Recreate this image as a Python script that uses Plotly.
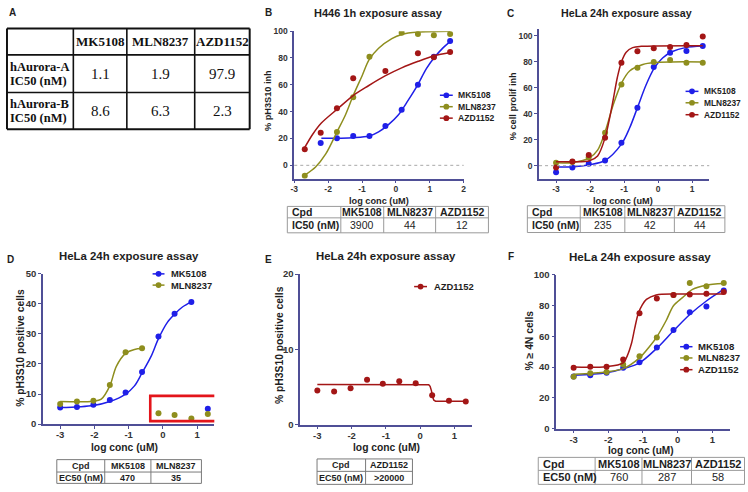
import plotly.graph_objects as go

W, H = 748, 492

# ---------------- data ----------------
# Panel A table
a_cols = ["MK5108", "MLN8237", "AZD1152"]
a_rows = [["hAurora-A", "IC50 (nM)"], ["hAurora-B", "IC50 (nM)"]]
a_vals = [["1.1", "1.9", "97.9"], ["8.6", "6.3", "2.3"]]

# Panel B: H446 1h exposure (% pH3S10 inh)
b_x = [-2.69, -2.22, -1.74, -1.26, -0.78, -0.31, 0.17, 0.65, 1.12, 1.60]
b_mk = [None, 16.7, 20.1, 21.8, 21.8, 29.3, 41.4, 60.0, 81.0, 92.7]
b_mln = [-7.7, None, 24.9, 50.8, 80.9, None, 98.8, 97.8, 96.9, 97.8]
b_azd = [11.9, 24.2, 42.6, 64.9, None, 70.2, None, 83.5, 80.6, 84.5]
b_mk_fit_x = [-2.2, -1.26, -0.79, -0.51, -0.22, 0.07, 0.36, 0.64, 0.9, 1.14, 1.39, 1.59]
b_mk_fit_y = [20.1, 20.6, 21.8, 24.9, 30.3, 37.5, 48.4, 59.8, 72.0, 80.5, 87.5, 92.0]
b_mln_fit_x = [-2.69, -2.37, -2.07, -1.73, -1.49, -1.26, -1.0, -0.79, -0.51, -0.12, 0.17, 0.64, 1.6]
b_mln_fit_y = [-7.3, -1.2, 8.5, 25.4, 37.5, 52.0, 66.6, 78.7, 87.2, 94.4, 97.5, 99.3, 100.0]
b_azd_fit_x = [-2.69, -2.46, -2.2, -1.73, -1.26, -0.81, -0.32, 0.17, 0.66, 1.14, 1.6]
b_azd_fit_y = [13.3, 23.0, 31.5, 41.9, 52.0, 59.3, 66.6, 72.6, 77.5, 81.6, 84.0]
b_table = [["Cpd", "MK5108", "MLN8237", "AZD1152"], ["IC50 (nM)", "3900", "44", "12"]]

# Panel C: HeLa 24h (% cell prolif inh)
c_x = [-3.0, -2.52, -2.04, -1.56, -1.08, -0.61, -0.13, 0.35, 0.83, 1.31]
c_mk = [-5.0, -1.5, 1.5, 4.0, 17.6, 44.7, 76.1, 87.0, 88.4, 92.2]
c_mln = [2.3, 2.8, 6.5, 25.4, 62.6, 75.4, 79.9, 81.4, 79.4, 79.4]
c_azd = [-1.5, 3.3, 8.3, 21.6, 79.4, 88.2, 90.5, 91.5, 93.0, 99.5]
c_mk_fit_x = [-3.0, -2.5, -2.02, -1.56, -1.08, -0.84, -0.61, -0.36, -0.12, 0.13, 0.42, 0.8, 1.31]
c_mk_fit_y = [-1.0, -0.8, 0.75, 4.0, 16.6, 29.0, 44.7, 62.0, 75.0, 83.0, 88.0, 91.0, 92.2]
c_mln_fit_x = [-3.0, -2.5, -2.02, -1.78, -1.56, -1.32, -1.08, -0.84, -0.45, -0.12, 0.4, 1.31]
c_mln_fit_y = [2.2, 2.5, 6.0, 12.0, 26.0, 47.0, 63.5, 73.0, 78.0, 79.5, 80.0, 80.0]
c_azd_fit_x = [-3.0, -2.5, -2.02, -1.78, -1.56, -1.44, -1.32, -1.2, -1.08, -0.94, -0.75, -0.5, 1.31]
c_azd_fit_y = [3.0, 3.0, 3.8, 7.5, 21.5, 35.0, 51.0, 68.0, 80.0, 87.5, 91.0, 92.0, 92.5]
c_table = [["Cpd", "MK5108", "MLN8237", "AZD1152"], ["IC50 (nM)", "235", "42", "44"]]

# Panel D: HeLa 24h (% pH3S10 positive cells)
d_x = [-3.0, -2.51, -2.03, -1.55, -1.09, -0.61, -0.13, 0.34, 0.83, 1.31]
d_mk = [5.5, 5.7, 6.4, 8.0, 10.5, 17.3, 29.1, 36.7, 40.6, 5.1]
d_mln = [6.7, 7.5, 7.8, 13.0, 23.9, 25.2, 3.6, 3.0, 1.9, 3.4]
d_mk_fit_x = [-3.0, -2.03, -1.55, -1.09, -0.83, -0.61, -0.35, -0.13, 0.13, 0.34, 0.57, 0.83]
d_mk_fit_y = [5.5, 6.2, 7.5, 10.0, 12.7, 17.0, 22.4, 28.4, 33.8, 36.5, 38.9, 40.6]
d_mln_fit_x = [-3.0, -2.03, -1.8, -1.55, -1.36, -1.09, -0.83, -0.61]
d_mln_fit_y = [7.5, 7.6, 8.3, 12.7, 19.2, 23.5, 24.8, 25.1]
d_table = [["Cpd", "MK5108", "MLN8237"], ["EC50 (nM)", "470", "35"]]

# Panel E: HeLa 24h (% pH3S10 positive cells), AZD1152
e_x = [-3.0, -2.51, -2.03, -1.55, -1.09, -0.61, -0.13, 0.35, 0.84, 1.33]
e_azd = [4.55, 4.4, 4.85, 5.97, 5.45, 5.76, 5.5, 3.9, 3.2, 3.07]
e_fit_x = [-3.0, 0.25, 0.29, 0.33, 0.36, 0.40, 0.45, 1.33]
e_fit_y = [5.33, 5.32, 5.1, 4.5, 3.7, 3.25, 3.13, 3.12]
e_table = [["Cpd", "AZD1152"], ["EC50 (nM)", ">20000"]]

# Panel F: HeLa 24h (% >= 4N cells)
f_x = [-3.0, -2.52, -2.05, -1.57, -1.1, -0.6, -0.12, 0.35, 0.83, 1.33]
f_mk = [33.9, 34.7, 36.4, 39.6, 43.2, 52.8, 64.2, 75.6, 79.4, 89.8]
f_mln = [33.7, 36.0, 36.9, 41.7, 47.0, 59.3, 86.9, 94.7, 92.6, 94.7]
f_azd = [39.6, 40.3, 40.3, 44.9, 75.0, 84.7, 86.9, 87.3, 87.7, 88.8]
f_mk_fit_x = [-3.0, -2.05, -1.57, -1.1, -0.6, -0.12, 0.35, 0.83, 1.33]
f_mk_fit_y = [34.7, 36.4, 39.0, 42.8, 52.3, 63.6, 74.2, 83.0, 90.5]
f_mln_fit_x = [-3.0, -2.05, -1.57, -1.1, -0.81, -0.6, -0.33, -0.12, 0.14, 0.43, 0.81, 1.33]
f_mln_fit_y = [35.4, 36.9, 39.0, 46.0, 53.4, 59.7, 70.3, 79.9, 85.2, 90.5, 93.2, 94.3]
f_azd_fit_x = [-3.0, -2.05, -1.57, -1.45, -1.33, -1.24, -1.14, -1.02, -0.9, -0.62, 0.0, 1.33]
f_azd_fit_y = [40.0, 40.3, 42.8, 47.5, 55.5, 65.0, 74.6, 80.5, 84.0, 86.9, 87.5, 87.5]
f_table = [["Cpd", "MK5108", "MLN8237", "AZD1152"], ["EC50 (nM)", "760", "287", "58"]]

# tick labels
x_ticks_b = [-3, -2, -1, 0, 1, 2]
x_ticks = [-3, -2, -1, 0, 1]
y_ticks_100 = [0, 20, 40, 60, 80, 100]
y_ticks_50 = [0, 10, 20, 30, 40, 50]
y_ticks_20 = [0, 10, 20]

# ---------------- style ----------------
COL_MK = "#1f1fe8"
COL_MLN = "#8e8e1e"
COL_AZD = "#a31616"
AXC = "#4f4f96"
TXT = "#1e1e1e"
TICK = "#333333"
SANS = "Liberation Sans"
SERIF = "Liberation Serif"

def X(p):
    return p / W

def Y(p):
    return 1 - p / H

shapes = []
annotations = []

def text(px, py, s, size, bold=False, anchor="center", family=SANS, color=TXT, angle=0):
    annotations.append(dict(
        x=X(px), y=Y(py), xref="paper", yref="paper", text=s, showarrow=False,
        xanchor=anchor, yanchor="middle", borderpad=0, textangle=angle,
        font=dict(family=family, size=size, color=color,
                  weight="bold" if bold else "normal")))

def seg(x0, y0, x1, y1, color, w):
    shapes.append(dict(type="line", xref="paper", yref="paper",
                       x0=X(x0), x1=X(x1), y0=Y(y0), y1=Y(y1),
                       line=dict(color=color, width=w)))

def grid(xe, ye, color, w_in, w_out):
    for i, y in enumerate(ye):
        seg(xe[0], y, xe[-1], y, color, w_out if i in (0, len(ye) - 1) else w_in)
    for j, x in enumerate(xe):
        seg(x, ye[0], x, ye[-1], color, w_out if j in (0, len(xe) - 1) else w_in)

def table(xe, ye, rows, color, size, bold_cells, first_left, w=1.0):
    grid(xe, ye, color, w, w)
    for r, row in enumerate(rows):
        cy = (ye[r] + ye[r + 1]) / 2
        for c, s in enumerate(row):
            b = bold_cells(r, c)
            if c == 0 and first_left:
                text(xe[0] + 3.5, cy, s, size, bold=b, anchor="left")
            else:
                text((xe[c] + xe[c + 1]) / 2, cy, s, size, bold=b)

def legend_item(x0, x1, xt, y, color, label, size):
    seg(x0, y, x1, y, color, 1.5)
    cx = (x0 + x1) / 2
    r = 2.9
    shapes.append(dict(type="circle", xref="paper", yref="paper",
                       x0=X(cx - r), x1=X(cx + r), y0=Y(y + r), y1=Y(y - r),
                       fillcolor=color, line=dict(width=0)))
    text(xt, y, label, size, bold=True, anchor="left")

fig = go.Figure()

def series(k, fx, fy, px_, py_, color, name, shape="spline"):
    xa = "x" if k == 1 else "x%d" % k
    ya = "y" if k == 1 else "y%d" % k
    fig.add_trace(go.Scatter(x=fx, y=fy, mode="lines", xaxis=xa, yaxis=ya,
                             line=dict(color=color, width=1.5, shape=shape, smoothing=0.9),
                             showlegend=False, hoverinfo="skip", name=name + " fit"))
    fig.add_trace(go.Scatter(x=px_, y=py_, mode="markers", xaxis=xa, yaxis=ya,
                             marker=dict(color=color, size=6, line=dict(width=0)),
                             showlegend=False, name=name))

series(1, b_mk_fit_x, b_mk_fit_y, b_x, b_mk, COL_MK, "MK5108")
series(1, b_mln_fit_x, b_mln_fit_y, b_x, b_mln, COL_MLN, "MLN8237")
series(1, b_azd_fit_x, b_azd_fit_y, b_x, b_azd, COL_AZD, "AZD1152")
series(2, c_mk_fit_x, c_mk_fit_y, c_x, c_mk, COL_MK, "MK5108")
series(2, c_mln_fit_x, c_mln_fit_y, c_x, c_mln, COL_MLN, "MLN8237")
series(2, c_azd_fit_x, c_azd_fit_y, c_x, c_azd, COL_AZD, "AZD1152")
series(3, d_mk_fit_x, d_mk_fit_y, d_x, d_mk, COL_MK, "MK5108")
series(3, d_mln_fit_x, d_mln_fit_y, d_x, d_mln, COL_MLN, "MLN8237")
series(4, e_fit_x, e_fit_y, e_x, e_azd, COL_AZD, "AZD1152", shape="linear")
series(5, f_mk_fit_x, f_mk_fit_y, f_x, f_mk, COL_MK, "MK5108")
series(5, f_mln_fit_x, f_mln_fit_y, f_x, f_mln, COL_MLN, "MLN8237")
series(5, f_azd_fit_x, f_azd_fit_y, f_x, f_azd, COL_AZD, "AZD1152")

def axis(domain, rng, ticks, fs_tick, anchor, standoff=0):
    return dict(domain=domain, range=rng, anchor=anchor,
                tickvals=ticks, ticktext=[str(t) for t in ticks],
                showline=True, linecolor=AXC, linewidth=1.5, mirror=False,
                ticks="outside", ticklen=3, tickwidth=1.2, tickcolor=AXC,
                ticklabelstandoff=standoff,
                showgrid=False, zeroline=False, fixedrange=True,
                tickfont=dict(family=SANS, size=fs_tick, color=TICK, weight="bold"))

def xd(p0, p1):
    return [X(p0), X(p1)]

def yd(top, bottom):
    return [Y(bottom), Y(top)]

layout_axes = dict(
    xaxis=axis(xd(293.0, 464.0), [-3, 2], x_ticks_b, 8.5, "y", -2),
    yaxis=axis(yd(25.7, 176.7), [-10, 100], y_ticks_100, 8.5, "x"),
    xaxis2=axis(xd(540.1, 711.9), [-3.5, 1.5], x_ticks, 8.5, "y2", -2),
    yaxis2=axis(yd(24.0, 176.6), [-10, 105], y_ticks_100, 8.5, "x2"),
    xaxis3=axis(xd(39.4, 212.3), [-3.5, 1.5], x_ticks, 9.5, "y3", -2),
    yaxis3=axis(yd(273.7, 427.7), [0, 50], y_ticks_50, 9.5, "x3"),
    xaxis4=axis(xd(299.0, 472.0), [-3.5, 1.5], x_ticks, 9.5, "y4", -2),
    yaxis4=axis(yd(274.3, 428.3), [0, 20], y_ticks_20, 9.5, "x4"),
    xaxis5=axis(xd(557.5, 732.5), [-3.5, 1.5], x_ticks, 9.5, "y5", -2),
    yaxis5=axis(yd(275.0, 432.3), [0, 100], y_ticks_100, 9.5, "x5"),
)

# axis titles
XT = "log conc (uM)"
text(378.5, 199.5, XT, 9.2, bold=True)
text(625.0, 199.5, XT, 9.2, bold=True)
text(122.0, 451.5, XT, 10.3, bold=True)
text(385.7, 451.5, XT, 10.3, bold=True)
text(643.0, 454.5, XT, 10.1, bold=True)
text(266.7, 97.0, "% pH3S10 inh", 9.2, bold=True, angle=-90)
text(513.3, 102.0, "% cell prolif inh", 9.2, bold=True, angle=-90)
text(16.7, 350.0, "% pH3S10 positive cells", 10.3, bold=True, angle=-90)
text(278.3, 347.0, "% pH3S10 positive cells", 10.3, bold=True, angle=-90)
text(530.0, 342.0, "% \u2265 4N cells", 10.3, bold=True, angle=-90)

# dotted zero lines (B, C)
for k in ("", "2"):
    shapes.append(dict(type="line", xref="x%s domain" % k, yref="y%s" % k, x0=0, x1=1, y0=0, y1=0,
                       line=dict(color="#a8a8a8", width=1, dash="dot")))

# red highlight box in D
shapes.append(dict(type="rect", xref="x3", yref="y3", x0=-0.37, x1=1.61, y0=1.0, y1=9.4,
                   line=dict(color="#e3151b", width=2.6), fillcolor="rgba(0,0,0,0)"))

# ---------------- panel labels & titles ----------------
text(8.3, 7.0, "A", 10, bold=True)
text(266.7, 6.8, "B", 10, bold=True)
text(511.7, 7.3, "C", 10, bold=True)
text(7.0, 259.0, "D", 10, bold=True)
text(266.7, 259.3, "E", 10, bold=True)
text(511.7, 256.7, "F", 10, bold=True)

text(378.5, 7.5, "H446 1h exposure assay", 11, bold=True)
text(628.0, 7.5, "HeLa 24h exposure assay", 10.7, bold=True)
text(125.7, 256.0, "HeLa 24h exposure assay", 11.4, bold=True)
text(385.7, 256.0, "HeLa 24h exposure assay", 11.4, bold=True)
text(642.0, 256.0, "HeLa 24h exposure assay", 11.6, bold=True)

# ---------------- legends ----------------
names3 = [("MK5108", COL_MK), ("MLN8237", COL_MLN), ("AZD1152", COL_AZD)]
for (lab, col), yy in zip(names3, [91.3, 103.0, 114.7]):
    legend_item(440, 453, 457.5, yy, col, lab, 8.6)
for (lab, col), yy in zip(names3, [87.3, 99.0, 111.2]):
    legend_item(688, 701, 705.5, yy, col, lab, 8.4)
for (lab, col), yy in zip(names3[:2], [274.0, 285.5]):
    legend_item(150, 162, 168, yy, col, lab, 9.4)
legend_item(414, 427, 433, 287.0, COL_AZD, "AZD1152", 9.4)
for (lab, col), yy in zip(names3, [348.5, 360.0, 372.0]):
    legend_item(682.5, 695, 699.5, yy, col, lab, 9.6)

# ---------------- panel A table ----------------
axe = [3, 70, 124, 192.5, 248]
aye = [23, 50, 88.5, 126]
for i, y in enumerate(aye):
    seg(axe[0], y, axe[-1], y, "#111111", 2.0 if i in (0, len(aye) - 1) else 1.6)
for j, x in enumerate(axe):
    seg(x, aye[0], x, aye[-1], "#111111", 2.0 if j in (0, len(axe) - 1) else 1.6)
for c, s in enumerate(a_cols):
    text((axe[c + 1] + axe[c + 2]) / 2, 36.5, s, 13, bold=True, family=SERIF, color="#111")
for r in range(2):
    top, bot = aye[r + 1], aye[r + 2]
    mid = (top + bot) / 2
    text(5, mid - 7.3, a_rows[r][0], 12.5, bold=True, anchor="left", family=SERIF, color="#111")
    text(5, mid + 7.3, a_rows[r][1], 12.5, bold=True, anchor="left", family=SERIF, color="#111")
    for c, s in enumerate(a_vals[r]):
        text((axe[c + 1] + axe[c + 2]) / 2, mid, s, 15, family=SERIF, color="#111")

# ---------------- small IC50/EC50 tables ----------------
bold_hdr = lambda r, c: (r == 0) or (c == 0)
table([286, 340, 383.3, 435.7, 489], [205, 216.7, 232], b_table, "#9a9a9a", 10.5, bold_hdr, True)
table([528.3, 581.7, 626.7, 676.7, 727.7], [204.3, 216.7, 231.7], c_table, "#9a9a9a", 10.5, bold_hdr, True)
table([53.3, 101.7, 148.3, 199.3], [464, 476.7, 488.3], d_table, "#7a7a7a", 9, lambda r, c: True, False)
table([316, 365, 412.3], [463.3, 476, 489.3], e_table, "#7a7a7a", 9, lambda r, c: True, False)
table([539.3, 596.7, 644, 694, 747.5], [461.7, 475, 489.3], f_table, "#9a9a9a", 11, bold_hdr, True)

fig.update_layout(
    width=W, height=H, margin=dict(l=0, r=0, t=0, b=0),
    paper_bgcolor="white", plot_bgcolor="white",
    showlegend=False, shapes=shapes, annotations=annotations,
    font=dict(family=SANS, color=TXT),
    **layout_axes,
)

fig.write_html("out.html", config={"displayModeBar": False},
               post_script="document.body.style.margin='0';")
